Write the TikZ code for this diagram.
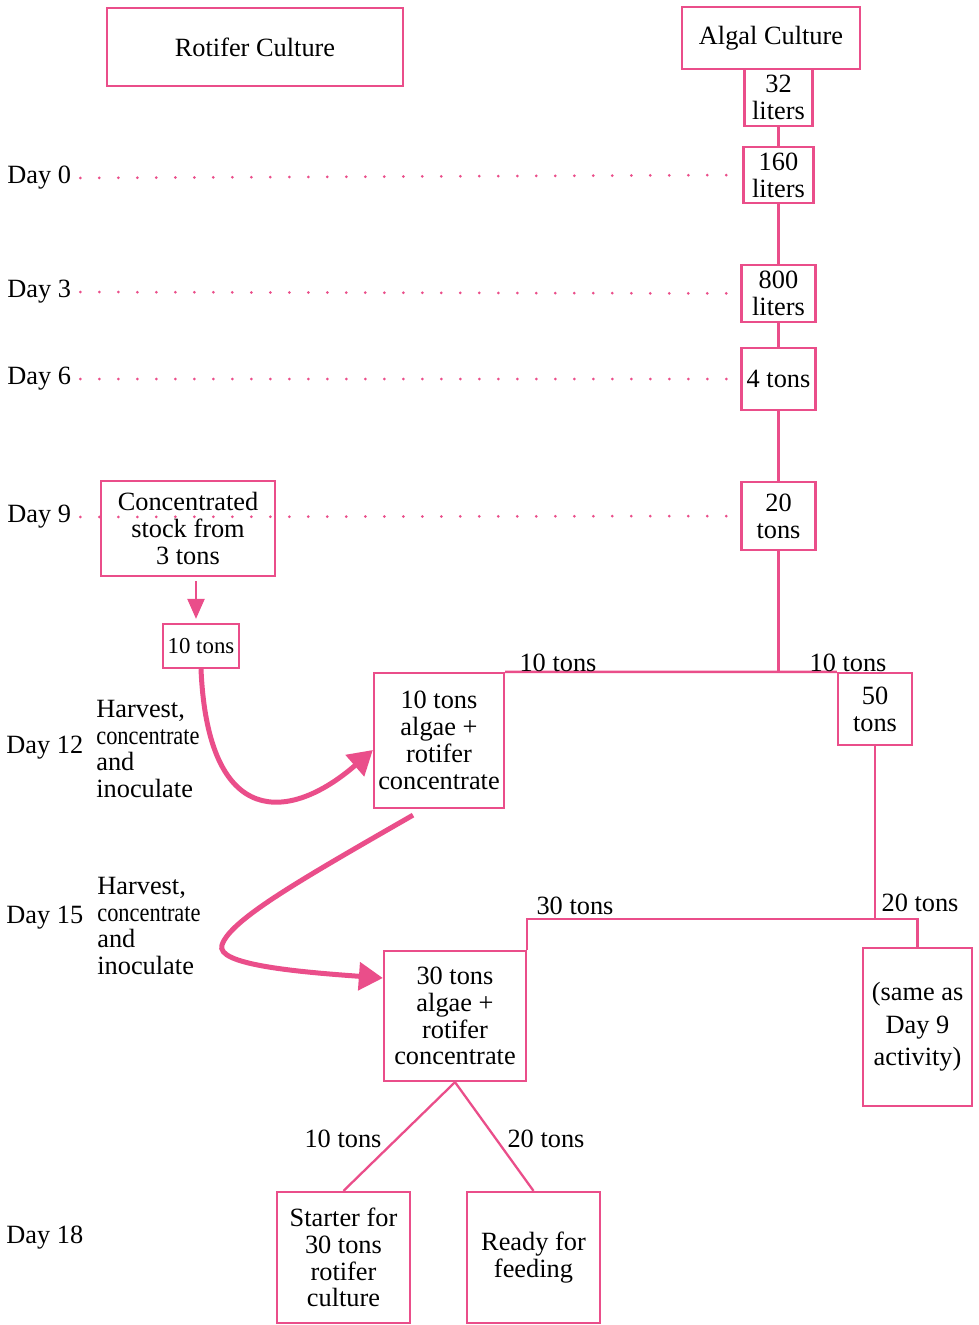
\documentclass[tikz,border=0pt]{standalone}
\usepackage{fontspec}
\setmainfont{Liberation Serif}
\usetikzlibrary{arrows.meta}
\definecolor{rosa}{RGB}{234,78,138}

\begin{document}
\begin{tikzpicture}[x=0.02cm,y=-0.02cm,
        font=\fontsize{15}{15.3}\selectfont,
        box/.style={draw=rosa,line width=1.3pt,align=center,inner sep=0pt},
        link/.style={draw=rosa,line width=1.3pt},
        dotline/.style={rosa,line width=0.06cm,line cap=round,dash pattern=on 0pt off 0.38cm},
        bigarrow/.style={rosa,line width=0.1cm,-{Triangle[length=0.48cm,width=0.55cm]}},
        lbl/.style={inner sep=0pt,align=center}]
        % 画布
        \useasboundingbox (0,0) rectangle (978,1325);

        % 标题
        \node[box,minimum width=5.92cm,minimum height=1.56cm] (rotifer) at (255,47) {Rotifer Culture};
        \node[box,minimum width=3.56cm,minimum height=1.24cm] (algal) at (771,38) {Algal Culture};

        % 藻类培养
        \node[box,minimum width=1.36cm,minimum height=1.14cm] (l32) at (778.5,97.5) {32\\liters};
        \node[box,minimum width=1.40cm,minimum height=1.12cm] (l160) at (778.5,175) {160\\liters};
        \node[box,minimum width=1.48cm,minimum height=1.14cm] (l800) at (778.5,293.5) {800\\liters};
        \node[box,minimum width=1.48cm,minimum height=1.24cm] (t4) at (778.5,379) {4 tons};
        \node[box,minimum width=1.48cm,minimum height=1.36cm] (t20) at (778.5,516) {20\\tons};
        \node[box,minimum width=1.48cm,minimum height=1.44cm] (t50) at (875,709) {50\\tons};
        \node[box,minimum width=2.18cm,minimum height=3.16cm,font=\fontsize{15}{18.5}\selectfont] (same) at (917.5,1027) {(same as\\Day 9\\activity)};

        % 轮虫培养
        \node[box,minimum width=3.48cm,minimum height=1.90cm] (conc) at (188,528.5) {Concentrated\\stock from\\3 tons};
        \node[box,minimum width=1.52cm,minimum height=0.88cm,font=\fontsize{13}{13}\selectfont] (t10s) at (201,646) {10 tons};
        \node[box,minimum width=2.60cm,minimum height=2.70cm] (mix10) at (439,740.5) {10 tons\\algae +\\rotifer\\concentrate};
        \node[box,minimum width=2.84cm,minimum height=2.60cm] (mix30) at (455,1016) {30 tons\\algae +\\rotifer\\concentrate};
        \node[box,minimum width=2.66cm,minimum height=2.62cm] (starter) at (343.5,1257.5) {Starter for\\30 tons\\rotifer\\culture};
        \node[box,minimum width=2.66cm,minimum height=2.62cm] (ready) at (533.5,1257.5) {Ready for\\feeding};

        % 天数
        \node[lbl,anchor=west] (day0) at (7,178) {Day 0};
        \node[lbl,anchor=west] (day3) at (7,292) {Day 3};
        \node[lbl,anchor=west] (day6) at (7,379) {Day 6};
        \node[lbl,anchor=west] (day9) at (7,517) {Day 9};
        \node[lbl,anchor=west] (day12) at (6,748) {Day 12};
        \node[lbl,anchor=west] (day15) at (6,918) {Day 15};
        \node[lbl,anchor=west] (day18) at (6,1238) {Day 18};

        \node[lbl,anchor=west,align=left] (harv1) at (96,749) {Harvest,\\\scalebox{0.85}[1]{concentrate}\\and\\inoculate};
        \node[lbl,anchor=west,align=left] (harv2) at (97,926) {Harvest,\\\scalebox{0.85}[1]{concentrate}\\and\\inoculate};

        % 点线
        \draw[dotline,shorten <=0.18cm,shorten >=0.2cm] (day0.east) -- (l160.west);
        \draw[dotline,shorten <=0.18cm,shorten >=0.2cm] (day3.east) -- (l800.west);
        \draw[dotline,shorten <=0.18cm,shorten >=0.2cm] (day6.east) -- (t4.west);
        \draw[dotline,shorten <=0.18cm,shorten >=0.2cm] (day9.east) -- (t20.west);

        % 连线
        \draw[link] (l32.south) -- (l160.north);
        \draw[link] (l160.south) -- (l800.north);
        \draw[link] (l800.south) -- (t4.north);
        \draw[link] (t4.south) -- (t20.north);
        \draw[link] (t20.south) -- (t20.south |- t50.north);
        \draw[link] (mix10.north east) -- (t50.north west);
        \coordinate (split) at (t50.south |- 0,919);
        \draw[link] (t50.south) -- (split);
        \draw[link] (mix30.north east) |- (split) -| (same.north);
        \draw[link] (mix30.south) -- (starter.north);
        \draw[link] (mix30.south) -- (ready.north);

        \node[lbl,anchor=base] (lab10a) at (558,671) {10 tons};
        \node[lbl,anchor=base] (lab10b) at (848,671) {10 tons};
        \node[lbl,anchor=base] (lab30) at (575,914) {30 tons};
        \node[lbl,anchor=base] (lab20a) at (920,911) {20 tons};
        \node[lbl,anchor=base] (lab10c) at (343,1147) {10 tons};
        \node[lbl,anchor=base] (lab20b) at (546,1147) {20 tons};

        % 箭头
        \draw[rosa,line width=1.3pt,-{Triangle[length=0.4cm,width=0.34cm]},shorten <=0.08cm,shorten >=0.08cm]
            ([xshift=-0.1cm]t10s.north |- conc.south) -- ([xshift=-0.1cm]t10s.north);
        \draw[bigarrow] (t10s.south) .. controls (208,830) and (290,822) .. ([yshift=-0.19cm]mix10.west);
        \draw[bigarrow] ([xshift=-0.52cm,yshift=-0.12cm]mix10.south) .. controls (300,880) and (230,920) .. (222,945)
            .. controls (215,965) and (300,972) .. ([yshift=0.76cm]mix30.west);
    \end{tikzpicture}
\end{document}
